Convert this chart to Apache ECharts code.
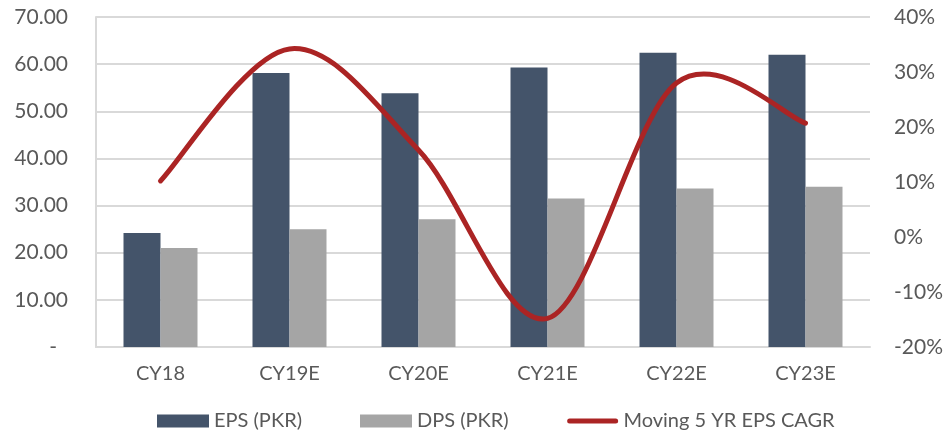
<!DOCTYPE html>
<html>
<head>
<meta charset="utf-8">
<script src="https://cdn.jsdelivr.net/npm/echarts@6/dist/echarts.min.js"></script>
<style>
  html, body { margin: 0; padding: 0; background: #fff; }
  #chart { width: 946px; height: 432px; }
</style>
</head>
<body>
<div id="chart"></div>
<script>
// Per-share earnings / dividends with rolling 5-year EPS growth
const categories = ['CY18', 'CY19E', 'CY20E', 'CY21E', 'CY22E', 'CY23E'];
const epsValues = [24.2, 58.1, 53.8, 59.3, 62.4, 62.0];
const dpsValues = [21.0, 25.0, 27.1, 31.5, 33.6, 34.0];
const cagrValues = [10.2, 34.2, 15.8, -14.8, 28.0, 20.7]; // percent
const leftTicks = { min: 0, max: 70, step: 10 };
const rightTicks = { min: -20, max: 40, step: 10 };

const FONT = 'Lato';
const TEXT = '#595959';
const GRID = '#D9D9D9';
const RED = '#AB2424';

// Smooth curve through the projected points (cubic Bezier, Catmull-Rom tangents)
function smoothPath(pts) {
  let d = 'M' + pts[0][0] + ',' + pts[0][1];
  for (let i = 0; i < pts.length - 1; i++) {
    const p0 = pts[Math.max(i - 1, 0)];
    const p1 = pts[i];
    const p2 = pts[i + 1];
    const p3 = pts[Math.min(i + 2, pts.length - 1)];
    const c1 = [p1[0] + (p2[0] - p0[0]) / 6, p1[1] + (p2[1] - p0[1]) / 6];
    const c2 = [p2[0] - (p3[0] - p1[0]) / 6, p2[1] - (p3[1] - p1[1]) / 6];
    d += ' C' + c1[0] + ',' + c1[1] + ' ' + c2[0] + ',' + c2[1] + ' ' + p2[0] + ',' + p2[1];
  }
  return d;
}

const chart = echarts.init(document.getElementById('chart'), null, { renderer: 'canvas' });

chart.setOption({
  animation: false,
  backgroundColor: '#ffffff',
  textStyle: { fontFamily: FONT, color: TEXT },
  grid: { left: 96, right: 73, top: 17, bottom: 85, containLabel: false },
  legend: {
    left: 152,
    top: 406,
    itemWidth: 52,
    itemHeight: 13,
    itemGap: 58,
    textStyle: { fontFamily: FONT, fontSize: 20, color: TEXT },
    data: [
      { name: 'EPS (PKR)', icon: 'rect' },
      { name: 'DPS (PKR)', icon: 'rect' },
      {
        name: 'Moving 5 YR EPS CAGR',
        icon: 'path://M0,0 L0.01,0 L0.01,0.01 Z M0,13 L0.01,13 L0.01,12.99 Z ' +
              'M3,4 L49,4 A2.5,2.5 0 0 1 49,9 L3,9 A2.5,2.5 0 0 1 3,4 Z',
        itemStyle: { color: RED }
      }
    ]
  },
  xAxis: {
    type: 'category',
    data: categories,
    axisTick: { show: false },
    axisLine: { lineStyle: { color: GRID, width: 2 } },
    axisLabel: { fontFamily: FONT, fontSize: 20, color: TEXT, margin: 17 }
  },
  yAxis: [
    {
      type: 'value',
      min: leftTicks.min,
      max: leftTicks.max,
      interval: leftTicks.step,
      axisLine: { show: true, lineStyle: { color: GRID, width: 2 } },
      axisTick: { show: false },
      splitLine: { lineStyle: { color: GRID, width: 2 } },
      axisLabel: {
        fontFamily: FONT, fontSize: 21, color: TEXT, margin: 28,
        formatter: v => v === 0 ? '{z|-}' : v.toFixed(2),
        rich: { z: { fontFamily: FONT, fontSize: 21, color: TEXT, padding: [0, 11, 0, 0] } }
      }
    },
    {
      type: 'value',
      min: rightTicks.min,
      max: rightTicks.max,
      interval: rightTicks.step,
      axisLine: { show: false },
      axisTick: { show: false },
      splitLine: { show: false },
      axisLabel: {
        fontFamily: FONT, fontSize: 21, color: TEXT, margin: 24, align: 'left',
        formatter: v => v + '%'
      }
    }
  ],
  series: [
    {
      name: 'EPS (PKR)',
      type: 'bar',
      data: epsValues,
      barWidth: 37,
      barGap: '0%',
      itemStyle: { color: '#44546A' }
    },
    {
      name: 'DPS (PKR)',
      type: 'bar',
      data: dpsValues,
      barWidth: 37,
      barGap: '0%',
      itemStyle: { color: '#A5A5A5' }
    },
    {
      name: 'Moving 5 YR EPS CAGR',
      type: 'custom',
      yAxisIndex: 1,
      clip: false,
      z: 5,
      itemStyle: { color: RED },
      encode: { x: 0, y: 1 },
      data: cagrValues.map((v, i) => [i, v]),
      renderItem: function (params, api) {
        if (params.dataIndex !== 0) return null;
        const pts = cagrValues.map((v, i) => api.coord([i, v]));
        return {
          type: 'path',
          shape: { pathData: smoothPath(pts) },
          style: { fill: null, stroke: RED, lineWidth: 5, lineCap: 'round', lineJoin: 'round' }
        };
      }
    }
  ]
});
</script>
</body>
</html>
